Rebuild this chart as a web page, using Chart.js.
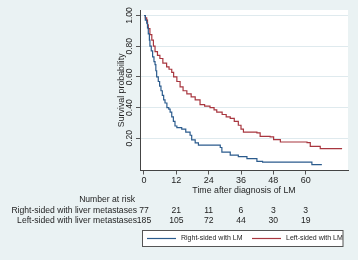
<!DOCTYPE html>
<html>
<head>
<meta charset="utf-8">
<script src="https://cdn.jsdelivr.net/npm/chart.js@4/dist/chart.umd.min.js"></script>
<style>
  html, body { margin: 0; padding: 0; background: #eaf2f3; }
  #wrap { width: 358px; height: 260px; position: relative; }
</style>
</head>
<body>
<div id="wrap"><canvas id="c" width="358" height="260"></canvas></div>
<script>
// ---- Data ----
const seriesNames = ["Right-sided with LM", "Left-sided with LM"];
const riskRowLabels = ["Right-sided with liver metastases", "Left-sided with liver metastases"];
const xTicks = [0, 12, 24, 36, 48, 60];
const yTicks = [0.2, 0.4, 0.6, 0.8, 1.0];
const riskRight = [77, 21, 11, 6, 3, 3];
const riskLeft = [185, 105, 72, 44, 30, 19];

const rightTimes = [0, 0.5, 1, 1.3, 1.6, 2, 2.2, 2.7, 3.2, 3.7, 4.1, 4.4, 4.7, 5.3, 5.8, 6.3, 6.8, 7.3, 7.8, 8.5, 9.2, 9.7, 10.3, 10.9, 11.5, 12.2, 14, 15.5, 17.1, 17.7, 19, 20.2, 28.3, 28.9, 32, 35, 38.2, 41.9, 44, 62.3, 66];
const rightSurv  = [1.0, 0.97, 0.95, 0.92, 0.88, 0.84, 0.80, 0.77, 0.73, 0.70, 0.68, 0.64, 0.60, 0.57, 0.54, 0.51, 0.48, 0.45, 0.43, 0.40, 0.39, 0.37, 0.34, 0.31, 0.28, 0.27, 0.26, 0.24, 0.22, 0.19, 0.17, 0.155, 0.14, 0.11, 0.09, 0.08, 0.068, 0.05, 0.045, 0.029, 0.029];

const leftTimes = [0, 0.5, 1, 1.3, 1.6, 2.2, 2.9, 3.5, 4.1, 5, 5.9, 7, 8.4, 9.3, 10.3, 11, 12.2, 13.4, 14.5, 15.9, 17.5, 19, 20.8, 22.5, 24.5, 26, 27, 29, 30.5, 32, 33.5, 35, 36, 36.9, 41.9, 43.1, 46.8, 48.1, 50.6, 60.5, 61.7, 65.4, 73.5];
const leftSurv  = [1.0, 0.985, 0.97, 0.94, 0.915, 0.875, 0.84, 0.80, 0.765, 0.74, 0.72, 0.69, 0.665, 0.65, 0.63, 0.60, 0.57, 0.535, 0.51, 0.49, 0.47, 0.45, 0.42, 0.41, 0.40, 0.385, 0.37, 0.355, 0.34, 0.33, 0.31, 0.285, 0.26, 0.24, 0.235, 0.213, 0.209, 0.192, 0.176, 0.172, 0.148, 0.133, 0.133];

// ---- Styles ----
const BLUE = "#2b5b8d";
const RED = "#a8363f";
const TXT = "#1e1e1e";
const FONT = "'Liberation Sans', Arial, Helvetica, sans-serif";

const toXY = (ts, ss) => ts.map((t, i) => ({ x: t, y: ss[i] }));

const extras = {
  id: "extras",
  beforeDraw(chart) {
    const { ctx, chartArea: a } = chart;
    ctx.save();
    ctx.fillStyle = "#eaf2f3";
    ctx.fillRect(0, 0, chart.width, chart.height);
    ctx.fillStyle = "#ffffff";
    ctx.fillRect(a.left, a.top, a.right - a.left, a.bottom - a.top);
    ctx.restore();
  },
  afterDraw(chart) {
    const { ctx, chartArea: a } = chart;
    const xs = chart.scales.x, ys = chart.scales.y;
    ctx.save();
    ctx.fillStyle = TXT;
    // y tick labels (rotated)
    ctx.font = "8.5px " + FONT;
    ctx.textAlign = "center";
    ctx.textBaseline = "middle";
    yTicks.forEach(v => {
      const py = ys.getPixelForValue(v);
      ctx.save();
      ctx.translate(130, py);
      ctx.rotate(-Math.PI / 2);
      ctx.fillText(v.toFixed(2), 0, 0);
      ctx.restore();
    });
    // y title
    ctx.font = "8.8px " + FONT;
    ctx.save();
    ctx.translate(122, (a.top + a.bottom) / 2);
    ctx.rotate(-Math.PI / 2);
    ctx.fillText("Survival probability", 0, 0);
    ctx.restore();
    // x title
    ctx.fillText("Time after diagnosis of LM", (a.left + a.right) / 2, 191);
    // Number at risk table
    ctx.font = "8.6px " + FONT;
    ctx.textAlign = "right";
    ctx.fillText("Number at risk", 135, 200);
    ctx.fillText(riskRowLabels[0], 137, 210.5);
    ctx.fillText(riskRowLabels[1], 137, 221);
    ctx.textAlign = "center";
    xTicks.forEach((t, i) => {
      const px = xs.getPixelForValue(t);
      ctx.fillText(String(riskRight[i]), px, 210.5);
      ctx.fillText(String(riskLeft[i]), px, 221);
    });
    // Legend box
    ctx.fillStyle = "#ffffff";
    ctx.fillRect(142.5, 230.5, 200.5, 16);
    ctx.strokeStyle = "#555555";
    ctx.lineWidth = 1;
    ctx.strokeRect(142.5, 230.5, 200.5, 16);
    const ly = 238.5;
    ctx.lineWidth = 1.2;
    ctx.strokeStyle = BLUE;
    ctx.beginPath(); ctx.moveTo(147, ly); ctx.lineTo(176, ly); ctx.stroke();
    ctx.strokeStyle = RED;
    ctx.beginPath(); ctx.moveTo(252, ly); ctx.lineTo(281, ly); ctx.stroke();
    ctx.fillStyle = TXT;
    ctx.font = "7px " + FONT;
    ctx.textAlign = "left";
    ctx.fillText(seriesNames[0], 181, ly);
    ctx.fillText(seriesNames[1], 286, ly);
    ctx.restore();
  }
};

new Chart(document.getElementById("c"), {
  type: "line",
  data: {
    datasets: [
      { label: seriesNames[0], data: toXY(rightTimes, rightSurv), borderColor: BLUE, borderWidth: 1.2, stepped: true, pointRadius: 0, fill: false },
      { label: seriesNames[1], data: toXY(leftTimes, leftSurv), borderColor: RED, borderWidth: 1.2, stepped: true, pointRadius: 0, fill: false }
    ]
  },
  options: {
    responsive: false,
    animation: false,
    devicePixelRatio: 1,
    layout: { padding: { left: 0, top: 10, right: 10, bottom: 0 } },
    plugins: { legend: { display: false }, tooltip: { enabled: false } },
    scales: {
      x: {
        type: "linear",
        min: -1.48,
        max: 75.7,
        afterBuildTicks: s => { s.ticks = xTicks.map(v => ({ value: v })); },
        afterFit: s => { s.height = 89.5; },
        grid: { drawOnChartArea: false, drawTicks: true, tickLength: 4, tickColor: "#555", tickWidth: 1 },
        border: { display: true, color: "#444", width: 1 },
        ticks: { color: TXT, font: { size: 9, family: FONT }, padding: 1, maxRotation: 0, autoSkip: false }
      },
      y: {
        type: "linear",
        min: -0.0098,
        max: 1.036,
        afterBuildTicks: s => { s.ticks = yTicks.map(v => ({ value: v })); },
        afterFit: s => { s.width = 140; },
        grid: { drawOnChartArea: true, color: "#dfeaee", lineWidth: 1, drawTicks: true, tickLength: 4, tickColor: "#555", tickWidth: 1 },
        border: { display: true, color: "#444", width: 1 },
        ticks: { display: false }
      }
    }
  },
  plugins: [extras]
});
</script>
</body>
</html>
